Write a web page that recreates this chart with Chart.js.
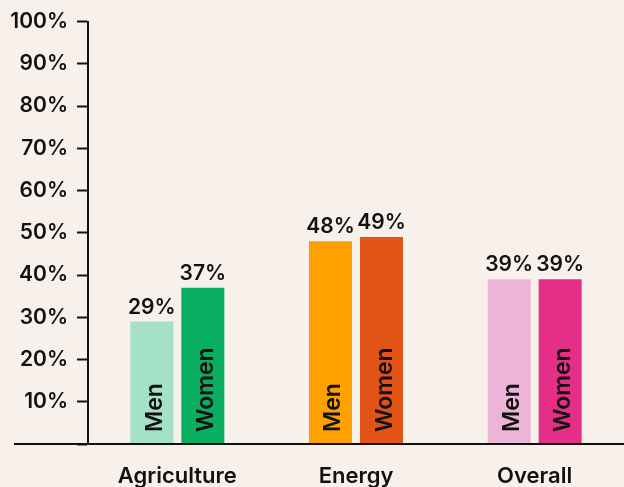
<!DOCTYPE html>
<html>
<head>
<meta charset="utf-8">
<script src="https://cdn.jsdelivr.net/npm/chart.js@4"></script>
<style>
  html, body { margin: 0; padding: 0; background: #f8f1eb; }
  #wrap { width: 624px; height: 487px; position: relative; }
</style>
</head>
<body>
<div id="wrap"><canvas id="c" width="624" height="487"></canvas></div>
<script>
// Share of respondents, by sector and gender (percent)
const categories = ['Agriculture', 'Energy', 'Overall'];
const seriesNames = ['Men', 'Women'];
const menValues = [29, 48, 39];
const womenValues = [37, 49, 39];
const yTicks = [0, 10, 20, 30, 40, 50, 60, 70, 80, 90, 100];

const menColors = ['#a4e1c8', '#fea000', '#ecb5d8'];
const womenColors = ['#0aae61', '#e25316', '#e52f87'];

const INK = '#111111';
const FONT = 'Inter, "Noto Sans", sans-serif';

// Value on top of each bar and the rotated series name inside it
const barText = {
  id: 'barText',
  afterDatasetsDraw(chart) {
    const ctx = chart.ctx;
    const base = chart.scales.y.getPixelForValue(0);
    chart.data.datasets.forEach((ds, di) => {
      const meta = chart.getDatasetMeta(di);
      meta.data.forEach((bar, i) => {
        ctx.save();
        ctx.fillStyle = INK;
        ctx.font = '600 21px ' + FONT;
        ctx.textAlign = 'center';
        ctx.textBaseline = 'alphabetic';
        ctx.fillText(ds.data[i] + '%', bar.x, bar.y - 8);

        ctx.translate(bar.x + 10, base - 12);
        ctx.rotate(-Math.PI / 2);
        ctx.textAlign = 'left';
        ctx.font = '600 23px ' + FONT;
        ctx.fillText(ds.label, 0, 0);
        ctx.restore();
      });
    });
  }
};

// Baseline running across the full width
const baseLine = {
  id: 'baseLine',
  afterDraw(chart) {
    const ctx = chart.ctx;
    const y = chart.scales.y.getPixelForValue(0);
    ctx.save();
    ctx.strokeStyle = INK;
    ctx.lineWidth = 2;
    ctx.beginPath();
    ctx.moveTo(14, y);
    ctx.lineTo(chart.width, y);
    ctx.stroke();
    ctx.restore();
  }
};

new Chart(document.getElementById('c'), {
  type: 'bar',
  data: {
    labels: categories,
    datasets: [
      { label: seriesNames[0], data: menValues, backgroundColor: menColors },
      { label: seriesNames[1], data: womenValues, backgroundColor: womenColors }
    ]
  },
  options: {
    responsive: false,
    animation: false,
    devicePixelRatio: 1,
    layout: { padding: { top: 20, right: 0, left: 0, bottom: 0 } },
    datasets: {
      bar: { categoryPercentage: 0.571, barPercentage: 0.843, borderWidth: 0 }
    },
    plugins: {
      legend: { display: false },
      tooltip: { enabled: false }
    },
    scales: {
      x: {
        grid: { display: false, drawTicks: false },
        border: { display: false },
        ticks: { color: INK, font: { family: FONT, size: 22, weight: '600' }, padding: 19 },
        afterFit(scale) { scale.height = 43; }
      },
      y: {
        min: 0,
        max: 100,
        afterBuildTicks(scale) { scale.ticks = yTicks.map(v => ({ value: v })); },
        afterFit(scale) { scale.width = 88; },
        grid: { drawOnChartArea: false, drawTicks: true, tickLength: 11, tickColor: INK, tickWidth: 2 },
        border: { display: true, color: INK, width: 2 },
        ticks: {
          color: INK,
          padding: 9,
          font: { family: FONT, size: 21, weight: '600' },
          callback: (v) => (v === 0 ? '' : v + '%')
        }
      }
    }
  },
  plugins: [barText, baseLine]
});
</script>
</body>
</html>
